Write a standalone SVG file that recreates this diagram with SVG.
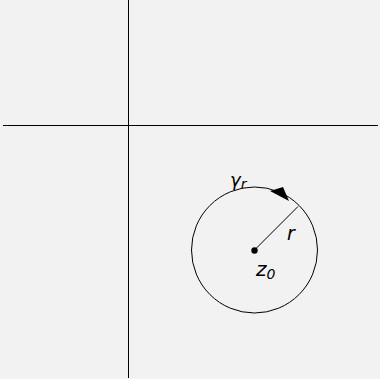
<svg xmlns="http://www.w3.org/2000/svg" width="380" height="379" viewBox="0 0 380 379">
<style>
.ax{stroke:#000;stroke-width:1;fill:none}
.t{font-family:"DejaVu Sans","Liberation Sans",sans-serif;font-style:italic;fill:#000}
</style>
<rect width="380" height="379" fill="#f2f2f2"/>
<g id="connectors">
<line class="ax" x1="128.5" y1="0" x2="128.5" y2="378"/>
<line class="ax" x1="3" y1="125.5" x2="378" y2="125.5"/>
<circle class="ax" cx="254.5" cy="250" r="63"/>
<line class="ax" x1="254.5" y1="250" x2="298" y2="206.5" stroke-width="1.2"/>
<path d="M270,191 L289,201 L283,187 Z" fill="#000"/>
</g>
<g id="center"><circle cx="254.5" cy="250.5" r="3.2" fill="#000"/></g>
<g id="labels">
<text class="t" x="230" y="186" font-size="18">γ<tspan font-size="14" dy="3">r</tspan></text>
<text class="t" x="287" y="240" font-size="19">r</text>
<text class="t" x="256" y="276" font-size="20">z<tspan font-size="14" dy="3">0</tspan></text>
</g>
</svg>
